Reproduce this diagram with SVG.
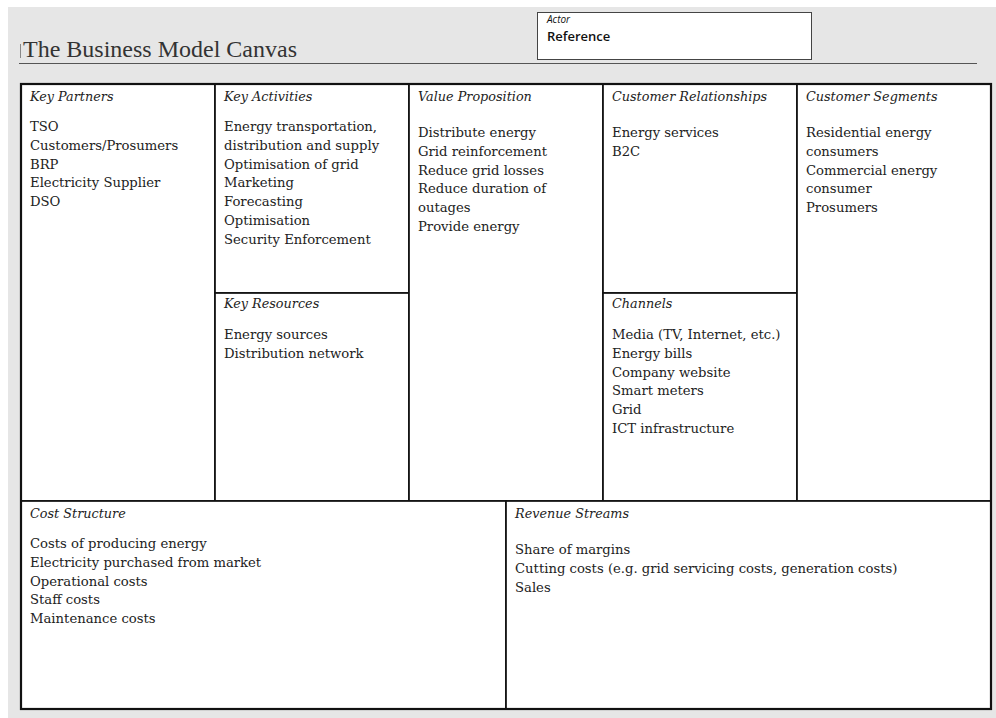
<svg xmlns="http://www.w3.org/2000/svg" width="996" height="718" viewBox="0 0 996 718">
  <style>
    .page { fill: #e6e6e6; }
    .cell { fill: #ffffff; stroke: #111111; stroke-width: 1.7; }
    .frame { fill: none; stroke: #111111; stroke-width: 2.2; }
    .head { font-family: "DejaVu Serif", "Liberation Serif", serif; font-style: italic; font-size: 12.8px; fill: #222222; }
    .body { font-family: "DejaVu Serif", "Liberation Serif", serif; font-size: 13.2px; fill: #222222; }
    .title { font-family: "Liberation Serif", "DejaVu Serif", serif; font-size: 24px; fill: #333333; }
    .actor-label { font-family: "Open Sans", "Liberation Sans", sans-serif; font-style: italic; font-size: 10px; fill: #111111; }
    .actor-name { font-family: "Open Sans", "Liberation Sans", sans-serif; font-size: 13px; font-weight: 600; fill: #111111; }
  </style>

  <!-- page background -->
  <rect class="page" x="8" y="7" width="988" height="711"/>

  <!-- heading -->
  <g id="heading">
    <line x1="20.5" y1="44" x2="20.5" y2="58" stroke="#888888" stroke-width="1"/>
    <text class="title" x="23" y="57">The Business Model Canvas</text>
    <line x1="19" y1="63.5" x2="977" y2="63.5" stroke="#555555" stroke-width="1"/>
  </g>

  <!-- actor box -->
  <g id="actor">
    <rect x="537.5" y="12.5" width="274" height="47" fill="#ffffff" stroke="#444444" stroke-width="1"/>
    <text class="actor-label" x="547" y="23">Actor</text>
    <text class="actor-name" x="547" y="41">Reference</text>
  </g>

  <!-- canvas cells -->
  <g id="key-partners">
    <rect class="cell" x="21" y="84" width="194" height="417"/>
    <text class="head" x="30" y="101">Key Partners</text>
    <text class="body" x="30" y="131">
      <tspan x="30">TSO</tspan>
      <tspan x="30" dy="18.8">Customers/Prosumers</tspan>
      <tspan x="30" dy="18.8">BRP</tspan>
      <tspan x="30" dy="18.8">Electricity Supplier</tspan>
      <tspan x="30" dy="18.8">DSO</tspan>
    </text>
  </g>

  <g id="key-activities">
    <rect class="cell" x="215" y="84" width="194" height="209"/>
    <text class="head" x="224" y="101">Key Activities</text>
    <text class="body" x="224" y="131">
      <tspan x="224">Energy transportation,</tspan>
      <tspan x="224" dy="18.8">distribution and supply</tspan>
      <tspan x="224" dy="18.8">Optimisation of grid</tspan>
      <tspan x="224" dy="18.8">Marketing</tspan>
      <tspan x="224" dy="18.8">Forecasting</tspan>
      <tspan x="224" dy="18.8">Optimisation</tspan>
      <tspan x="224" dy="18.8">Security Enforcement</tspan>
    </text>
  </g>

  <g id="key-resources">
    <rect class="cell" x="215" y="293" width="194" height="208"/>
    <text class="head" x="224" y="308">Key Resources</text>
    <text class="body" x="224" y="339">
      <tspan x="224">Energy sources</tspan>
      <tspan x="224" dy="18.8">Distribution network</tspan>
    </text>
  </g>

  <g id="value-proposition">
    <rect class="cell" x="409" y="84" width="194" height="417"/>
    <text class="head" x="418" y="101">Value Proposition</text>
    <text class="body" x="418" y="137">
      <tspan x="418">Distribute energy</tspan>
      <tspan x="418" dy="18.8">Grid reinforcement</tspan>
      <tspan x="418" dy="18.8">Reduce grid losses</tspan>
      <tspan x="418" dy="18.8">Reduce duration of</tspan>
      <tspan x="418" dy="18.8">outages</tspan>
      <tspan x="418" dy="18.8">Provide energy</tspan>
    </text>
  </g>

  <g id="customer-relationships">
    <rect class="cell" x="603" y="84" width="194" height="209"/>
    <text class="head" x="612" y="101">Customer Relationships</text>
    <text class="body" x="612" y="137">
      <tspan x="612">Energy services</tspan>
      <tspan x="612" dy="18.8">B2C</tspan>
    </text>
  </g>

  <g id="channels">
    <rect class="cell" x="603" y="293" width="194" height="208"/>
    <text class="head" x="612" y="308">Channels</text>
    <text class="body" x="612" y="339">
      <tspan x="612">Media (TV, Internet, etc.)</tspan>
      <tspan x="612" dy="18.8">Energy bills</tspan>
      <tspan x="612" dy="18.8">Company website</tspan>
      <tspan x="612" dy="18.8">Smart meters</tspan>
      <tspan x="612" dy="18.8">Grid</tspan>
      <tspan x="612" dy="18.8">ICT infrastructure</tspan>
    </text>
  </g>

  <g id="customer-segments">
    <rect class="cell" x="797" y="84" width="194" height="417"/>
    <text class="head" x="806" y="101">Customer Segments</text>
    <text class="body" x="806" y="137">
      <tspan x="806">Residential energy</tspan>
      <tspan x="806" dy="18.8">consumers</tspan>
      <tspan x="806" dy="18.8">Commercial energy</tspan>
      <tspan x="806" dy="18.8">consumer</tspan>
      <tspan x="806" dy="18.8">Prosumers</tspan>
    </text>
  </g>

  <g id="cost-structure">
    <rect class="cell" x="21" y="501" width="485" height="208"/>
    <text class="head" x="30" y="518">Cost Structure</text>
    <text class="body" x="30" y="548">
      <tspan x="30">Costs of producing energy</tspan>
      <tspan x="30" dy="18.8">Electricity purchased from market</tspan>
      <tspan x="30" dy="18.8">Operational costs</tspan>
      <tspan x="30" dy="18.8">Staff costs</tspan>
      <tspan x="30" dy="18.8">Maintenance costs</tspan>
    </text>
  </g>

  <g id="revenue-streams">
    <rect class="cell" x="506" y="501" width="485" height="208"/>
    <text class="head" x="515" y="518">Revenue Streams</text>
    <text class="body" x="515" y="554">
      <tspan x="515">Share of margins</tspan>
      <tspan x="515" dy="18.8">Cutting costs (e.g. grid servicing costs, generation costs)</tspan>
      <tspan x="515" dy="18.8">Sales</tspan>
    </text>
  </g>

  <!-- outer frame -->
  <g id="connectors">
    <rect class="frame" x="21" y="84" width="970" height="625"/>
  </g>
</svg>
